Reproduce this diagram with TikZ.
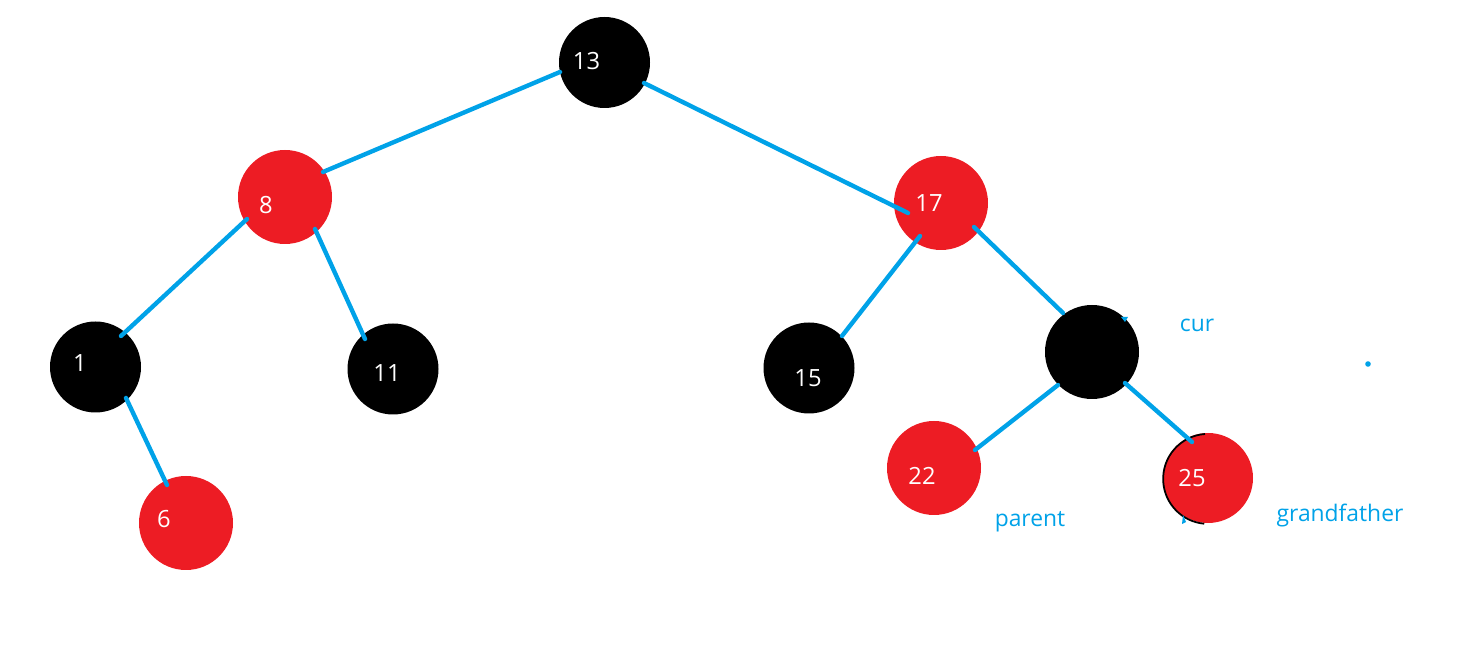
\documentclass[tikz,border=0pt]{standalone}
\usepackage{fontspec}
\setmainfont{Open Sans}
\definecolor{nodered}{RGB}{237,28,36}
\definecolor{edgeblue}{RGB}{0,162,232}
\tikzset{
	rb/.style={circle,inner sep=0pt,minimum size=#1},
	rednode/.style={rb=94\pgflinewidth,fill=nodered},
	blacknode/.style={rb=91\pgflinewidth,fill=black},
	num/.style={text=white,font=\fontsize{13.5}{16}\selectfont,inner sep=0pt},
	tag/.style={text=edgeblue,font=\fontsize{13}{16}\selectfont,inner sep=0pt},
	edge/.style={edgeblue,line width=2.5pt,line cap=round}
}
\begin{document}
\begin{tikzpicture}[x=0.02cm, y=-0.02cm, line width=0.02cm]
		\useasboundingbox (0,0) rectangle (1465,671);
		%nodes
		\node[blacknode] (n13) at (604.5, 62.5){};
		\node[rednode] (n8) at (285, 197){};
		\node[rednode] (n17) at (941, 203){};
		\node[blacknode] (n1) at (95.5, 367){};
		\node[blacknode] (n11) at (393, 369){};
		\node[rednode] (n6) at (186, 523){};
		\node[blacknode] (n15) at (809, 368){};
		\node[rb=94\pgflinewidth,fill=black] (cur) at (1092, 352){};
		\node[rednode] (n22) at (934, 468){};
		\node[rb=90\pgflinewidth,fill=nodered] (n25) at (1208, 478){};
		\draw[black, line width=1pt] ([shift={(-3,-44)}]n25.center) arc (266:95:45);
		
		%numbers
		\node[num] (t13) at (586.5, 61.5){13};
		\node[num] (t8) at (266, 205){8};
		\node[num] (t1) at (80, 363){1};
		\node[num] (t11) at (387, 373){11};
		\node[num] (t6) at (164, 519){6};
		\node[num] (t17) at (929, 203){17};
		\node[num] (t15) at (808, 378){15};
		\node[num] (t22) at (922, 476){22};
		\node[num] (t25) at (1192, 478){25};
		
		%edges
		\draw[edge] ([shift={(-44.5,9.5)}]n13.center) -- ([shift={(38,-25)}]n8.center);
		\draw[edge] ([shift={(39.5,20.5)}]n13.center) -- ([shift={(-33,10)}]n17.center);
		\draw[edge] ([shift={(-38,22)}]n8.center) -- ([shift={(25.5,-31)}]n1.center);
		\draw[edge] ([shift={(30,32)}]n8.center) -- ([shift={(-28,-30)}]n11.center);
		\draw[edge] ([shift={(30.5,31)}]n1.center) -- ([shift={(-19,-38)}]n6.center);
		\draw[edge] ([shift={(-21,33)}]n17.center) -- ([shift={(33,-32)}]n15.center);
		\draw[edge] ([shift={(33,24)}]n17.center) -- ([shift={(-29,-39)}]cur.center);
		\draw[edge] ([shift={(-34,33)}]cur.center) -- ([shift={(41,-18)}]n22.center);
		\draw[edge] ([shift={(33,31)}]cur.center) -- ([shift={(-16,-36)}]n25.center);
		
		%names
		\node[tag] (lcur) at (1197, 325){cur};
		\node[tag] (lparent) at (1030, 522){parent};
		\node[tag] (lgrand) at (1340, 516){grandfather};
		\fill[edgeblue] (1368, 364) circle (2.8);
		\fill[edgeblue] (1121, 317) -- (1128, 317) -- (1125, 322) -- cycle;
		\fill[edgeblue] (1183, 515) -- (1186, 522) -- (1182, 524) -- cycle;
\end{tikzpicture}
\end{document}
